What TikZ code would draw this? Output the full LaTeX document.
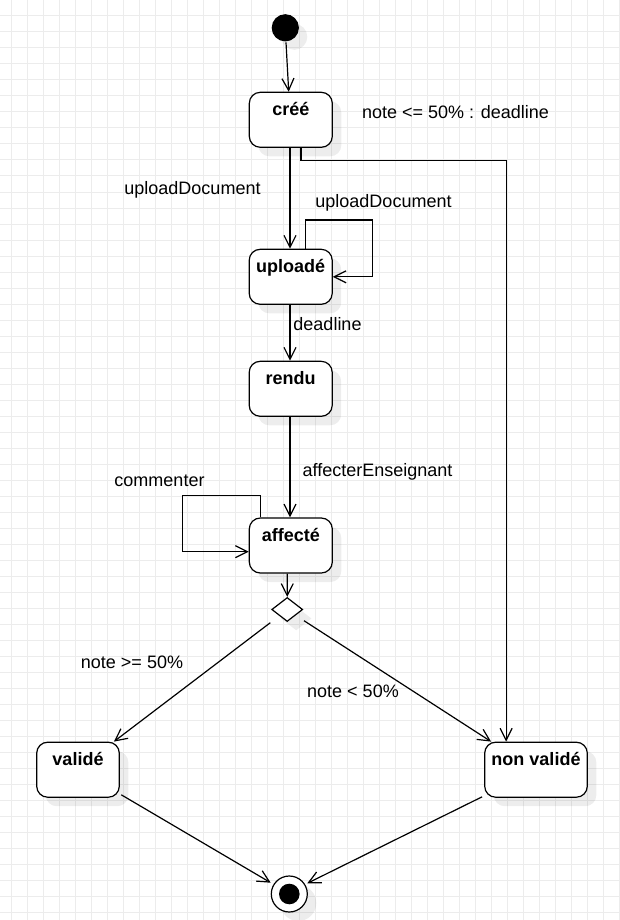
\documentclass[tikz,border=0pt]{standalone}
\usepackage{fontspec}
\setmainfont{Liberation Sans}
\usetikzlibrary{arrows.meta,shapes.geometric,calc,shadows}
\definecolor{gridc}{RGB}{236,236,236}
\begin{document}
\begin{tikzpicture}[x=1pt,y=-1pt,
  line width=1.2pt,
  openarrow/.style={-{Straight Barb[length=12pt,width=12pt,line width=1.2pt]}},
  shad/.style={general shadow={shadow xshift=9pt,shadow yshift=-9pt,fill=black,opacity=0.07,draw=none}},
  state/.style={draw, rounded corners=11pt, minimum height=55pt, inner sep=0pt, shad, fill=white},
  lbl/.style={font=\fontsize{18}{21}\selectfont, anchor=base, inner sep=0pt},
  slbl/.style={font=\fontsize{18}{21}\selectfont\bfseries, anchor=base, inner sep=0pt, yshift=-24pt},
]
\useasboundingbox (0,0) rectangle (619,920);
\fill[white] (0,0) rectangle (619,920);
% grid
\foreach \x in {0,...,38} \draw[gridc,line width=1pt] ({11.7+16*\x},0) -- ({11.7+16*\x},920);
\foreach \y in {1,...,57} \draw[gridc,line width=1pt] (0,{16*\y}) -- (619,{16*\y});

% states
\node[circle, draw, fill=black, minimum size=26pt, inner sep=0pt, shad] (init) at (285.3,27.8) {};
\node[state, minimum width=83pt, label={[slbl]north:créé}] (cree) at (290.8,119.8) {};
\node[state, minimum width=83pt, label={[slbl]north:uploadé}] (uploade) at (290.7,276.8) {};
\node[state, minimum width=83pt, label={[slbl]north:rendu}] (rendu) at (290.7,388.8) {};
\node[state, minimum width=83pt, label={[slbl]north:affecté}] (affecte) at (290.8,545.5) {};
\node[diamond, draw, fill=white, minimum width=31pt, minimum height=24pt, inner sep=0pt, shad] (dec) at (287.2,609.5) {};
\node[state, minimum width=82.6pt, label={[slbl]north:validé}] (valide) at (78,769.7) {};
\node[state, minimum width=102.6pt, label={[slbl]north:non validé}] (nonvalide) at (536,769.7) {};
\node[circle, draw, fill=white, minimum size=36pt, inner sep=0pt, shad] (fin) at (289.3,894) {};
\node[circle, fill=black, minimum size=20.6pt, inner sep=0pt] (finin) at (fin.center) {};

% connectors
\draw[openarrow] ($(init.south)+(0.7,1)$) -- ($(cree.north)+(-2.1,0)$);
\draw[openarrow] ($(cree.south)+(-0.8,0)$) -- ($(uploade.north)+(-0.7,0)$);
\draw[openarrow] ($(cree.south)+(10.2,0)$) -- ++(0,12.7) -| ($(nonvalide.north west)+(22,0)$);
\draw[openarrow] ($(uploade.north)+(14.6,0)$) |- (372.7,220) |- (uploade.east);
\draw[openarrow] ($(uploade.south)+(-0.7,0)$) -- ($(rendu.north)+(-0.7,0)$);
\draw[openarrow] ($(rendu.south)+(-0.7,0)$) -- ($(affecte.north)+(-0.8,0)$);
\draw[openarrow] ($(affecte.north)+(-30.1,0)$) |- (182.3,495.7) |- ($(affecte.west)+(0,6.2)$);
\draw[openarrow] ($(affecte.south)+(-3.5,0)$) -- (dec.north);
\draw[openarrow] ($(dec.center)+(-16.9,13.2)$) -- ($(valide.north east)+(-6,0)$);
\draw[openarrow] ($(dec.center)+(16.8,11.2)$) -- ($(nonvalide.north west)+(7,0)$);
\draw[openarrow] ($(valide.south east)+(1.4,-3)$) -- ($(fin.center)+(-18.6,-11.3)$);
\draw[openarrow] ($(nonvalide.south west)+(-2,-1)$) -- ($(fin.center)+(18,-10.7)$);

% labels
\node[lbl] (l1) at (455.5,119) {note <= 50\% : deadline};
\node[lbl] (l2) at (192.5,194) {uploadDocument};
\node[lbl] (l3) at (383.5,207) {uploadDocument};
\node[lbl] (l4) at (327.5,330) {deadline};
\node[lbl] (l5) at (377.5,476) {affecterEnseignant};
\node[lbl] (l6) at (159.5,486) {commenter};
\node[lbl] (l7) at (132,668) {note >= 50\%};
\node[lbl] (l8) at (353,697) {note < 50\%};
\end{tikzpicture}
\end{document}
